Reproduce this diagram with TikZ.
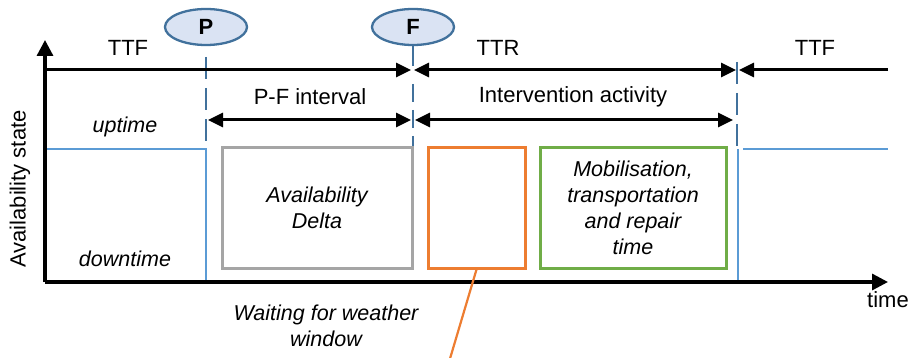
\documentclass[tikz,border=0pt]{standalone}
\usepackage{fontspec}
\setmainfont{Liberation Sans}
\usetikzlibrary{positioning, arrows.meta, calc, shapes.geometric}

\definecolor{stateblue}{HTML}{5B9BD5}
\definecolor{markblue}{HTML}{41719C}
\definecolor{markfill}{HTML}{DAE3F3}
\definecolor{waitorange}{HTML}{ED7D31}
\definecolor{repairgreen}{HTML}{70AD47}
\definecolor{deltagray}{HTML}{A5A5A5}

\begin{document}
\begin{tikzpicture}[
  x=1pt, y=-1pt,
  font=\fontsize{22}{26}\selectfont,
  axis/.style={line width=3.3pt, -{Triangle[length=16pt,width=16pt]}},
  span/.style={line width=3pt, {Triangle[length=15pt,width=14pt]}-{Triangle[length=15pt,width=14pt]}},
  tohead/.style={line width=3pt, -{Triangle[length=15pt,width=14pt]}},
  event/.style={ellipse, draw=markblue, fill=markfill, line width=2.3pt, minimum width=82pt, minimum height=36pt, inner sep=0pt, font=\fontsize{22}{26}\selectfont\bfseries},
  state/.style={draw=stateblue, line width=1.7pt},
  guide/.style={draw=markblue, line width=2.2pt, dash pattern=on 22pt off 9pt},
  phase/.style={draw, line width=3pt, minimum height=120pt, align=center, inner sep=2pt, font=\fontsize{21.5}{26}\selectfont\itshape},
  lbl/.style={font=\fontsize{22}{26}\selectfont},
  ilbl/.style={font=\fontsize{21.5}{26}\selectfont\itshape, align=center},
]
\useasboundingbox (0,0) rectangle (909,358);

% --- axes corners and timeline marks
\coordinate (o)  at (45,282);
\coordinate (yt) at (45,40);
\coordinate (xt) at (888,282);

% --- up/down state of the asset (drawn under the axes)
\draw[state] (45,149) -- (206,149) -- (206,282);
\draw[state] (738,282) -- (738,149);
\draw[state] (743,149) -- (888,149);

% --- axes
\draw[axis] (o) -- (yt);
\draw[axis] (o) -- (xt);
\node[lbl] (time) at (888,300) {time};
\node[lbl, rotate=90] (ylab) at (20,189) {Availability state};
\node[ilbl] (up)   at (125,127) {uptime};
\node[ilbl] (down) at (125,259) {downtime};

% --- P and F events with their guide lines
\node[event] (P) at (206,27) {P};
\node[event] (F) at (413,27) {F};
\coordinate (pend) at (206,146);
\coordinate (fend) at (413,148);
\draw[guide] (206,57) -- (pend);
\draw[draw=markblue, line width=2.2pt] (F.south) -- (413,66);
\draw[guide, dash pattern=on 18pt off 8pt] (413,84) -- (fend);
\draw[guide] (737,62) -- (737,147);

% --- TTF / TTR line
\draw[tohead] (45,70) -- (411,70);
\draw[span] (414,70) -- (736,70);
\draw[tohead] (888,70) -- (739,70);
\node[lbl] (ttf1) at (128,48) {TTF};
\node[lbl] (ttr)  at (498,48) {TTR};
\node[lbl] (ttf2) at (815,48) {TTF};

% --- P-F interval and intervention spans
\draw[span] (208,120) -- (411,120);
\draw[span] (415,120) -- (733,120);
\node[lbl] (pf)  at (310,97) {P-F interval};
\node[lbl] (int) at (573,97) {Intervention activity};

% --- phase boxes
\node[phase, draw=deltagray, minimum width=190pt] (delta) at (317,208) {Availability\\Delta};
\node[phase, draw=waitorange, minimum width=97pt] (wait) at (476.5,208) {};
\node[phase, draw=repairgreen, minimum width=186pt] (repair) at (633,208)
  {Mobilisation,\\transportation\\and repair\\time};

% --- weather waiting callout
\node[ilbl] (wlab) at (326,326) {Waiting for weather\\window};
\coordinate (wend) at (449,362);
\draw[draw=waitorange, line width=2.2pt] (wait.south) -- (wend);

\end{tikzpicture}
\end{document}
